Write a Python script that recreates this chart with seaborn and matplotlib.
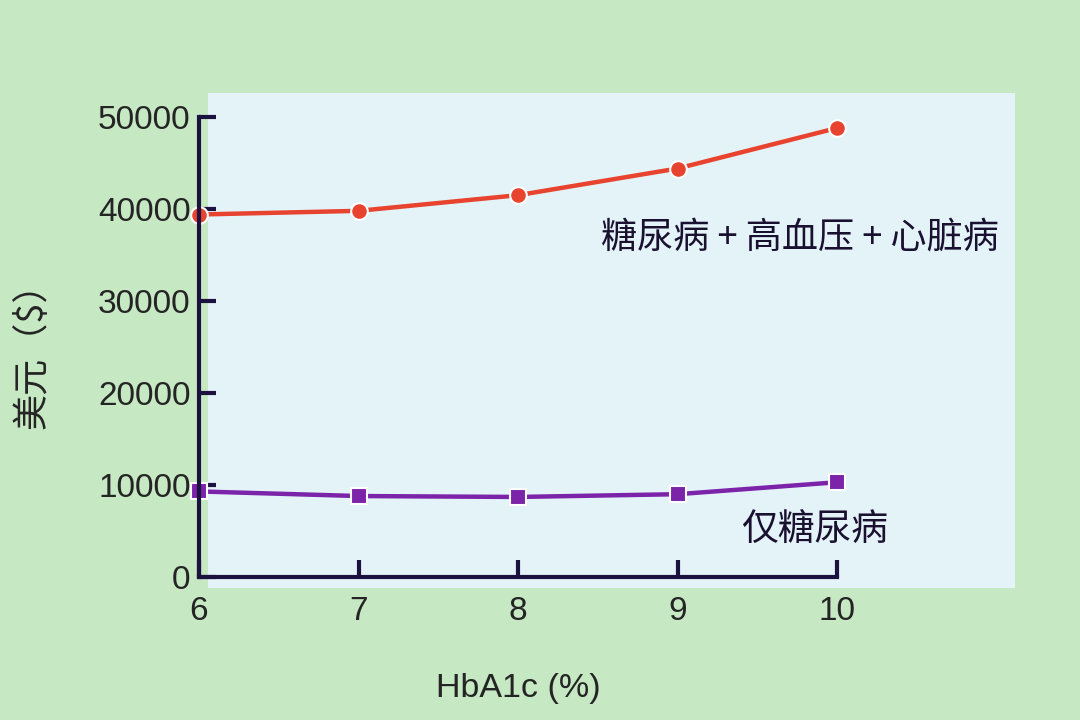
"""
HbA1c vs annual cost: diabetes only vs diabetes + hypertension + heart disease
"""

import numpy as np
import pandas as pd
import matplotlib
matplotlib.use("Agg")
import matplotlib.pyplot as plt
from matplotlib.patches import Rectangle
import seaborn as sns

# ============ DATA ============
hba1c = [6, 7, 8, 9, 10]
cost_combined = [39400, 39800, 41500, 44400, 48800]
cost_diabetes_only = [9300, 8800, 8700, 9000, 10300]
label_combined = "糖尿病 + 高血压 + 心脏病"
label_diabetes_only = "仅糖尿病"
x_ticks = [6, 7, 8, 9, 10]
y_ticks = [0, 10000, 20000, 30000, 40000, 50000]

# ============ STYLE ============
BG_GREEN = "#c6e8c3"
PANEL_BLUE = "#e4f3f8"
AXIS_COLOR = "#1c1240"
TEXT_COLOR = "#242424"
RED = "#e8432e"
PURPLE = "#7b23a9"
CJK = ["Noto Sans CJK SC", "DejaVu Sans"]

sns.set_style("white")
plt.rcParams["font.family"] = ["Liberation Sans", "Noto Sans CJK SC", "DejaVu Sans"]


def main():
    df = pd.DataFrame({
        "hba1c": hba1c * 2,
        "cost": cost_combined + cost_diabetes_only,
        "group": [label_combined] * len(hba1c) + [label_diabetes_only] * len(hba1c),
    })

    fig = plt.figure(figsize=(10.8, 7.2), dpi=100, facecolor=BG_GREEN)
    # light blue panel behind the plot
    panel = Rectangle((208 / 1080, 1 - 588 / 720), (1015 - 208) / 1080, (588 - 93) / 720,
                      transform=fig.transFigure, facecolor=PANEL_BLUE, edgecolor="none")
    panel.set_zorder(-1)
    fig.add_artist(panel)

    ax = fig.add_axes([199 / 1080, 1 - 577 / 720, (837 - 199) / 1080, (577 - 117) / 720])
    ax.set_facecolor("none")
    ax.set_zorder(1)

    sns.lineplot(data=df, x="hba1c", y="cost", hue="group", style="group",
                 palette={label_combined: RED, label_diabetes_only: PURPLE},
                 markers={label_combined: "o", label_diabetes_only: "s"},
                 dashes=False, linewidth=3.2, markersize=12, markeredgecolor="white",
                 markeredgewidth=1.5, legend=False, ax=ax, clip_on=False)

    ax.set_xlim(6, 10)
    ax.set_ylim(0, 50000)
    ax.set_xticks(x_ticks)
    ax.set_yticks(y_ticks)
    ax.set_xticklabels([str(t) for t in x_ticks])
    ax.set_yticklabels([str(t) for t in y_ticks])

    for side in ["top", "right"]:
        ax.spines[side].set_visible(False)
    for side in ["left", "bottom"]:
        ax.spines[side].set_color(AXIS_COLOR)
        ax.spines[side].set_linewidth(3)

    # style "white" turns the tick marks off, so switch them back on
    ax.tick_params(axis="both", bottom=True, left=True, direction="in", length=12,
                   width=3, color=AXIS_COLOR, labelsize=24, labelcolor=TEXT_COLOR)
    ax.tick_params(axis="x", pad=14)
    ax.tick_params(axis="y", pad=6)

    ax.set_xlabel("HbA1c (%)", fontsize=24.5, color=TEXT_COLOR, labelpad=33)
    ax.set_ylabel("美元（$）", fontsize=26, color=TEXT_COLOR, labelpad=34,
                  family=CJK, fontweight="medium")

    ax.text(8.52, 36900, label_combined, fontsize=26, color="#1a1030",
            va="center", ha="left", family=CJK)
    ax.text(9.4, 5100, label_diabetes_only, fontsize=26.5, color="#1a1030",
            va="center", ha="left", family=CJK)

    fig.savefig("out.png", dpi=100, facecolor=BG_GREEN)


if __name__ == "__main__":
    main()
